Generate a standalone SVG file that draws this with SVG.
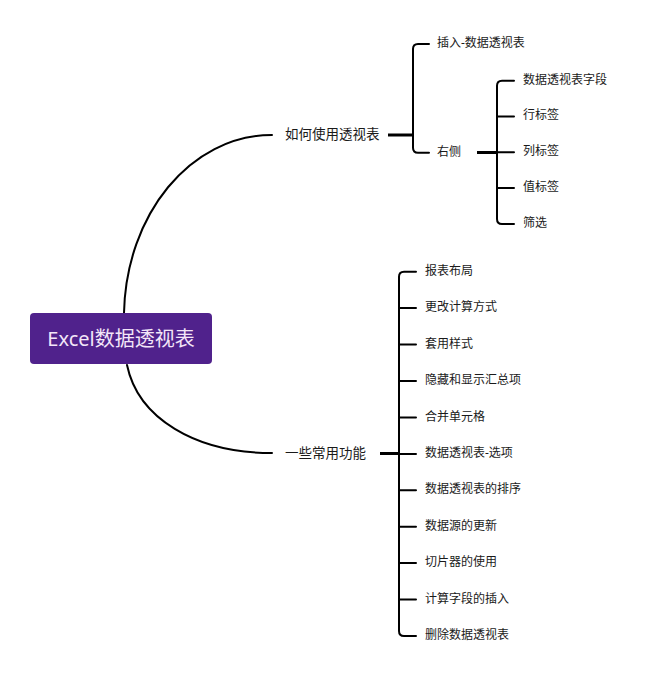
<svg xmlns="http://www.w3.org/2000/svg" width="646" height="678" viewBox="0 0 646 678">
<style>
.t{font-family:"Noto Sans","Noto Sans CJK SC",sans-serif;fill:#1a1a1a;dominant-baseline:central}
.s{font-size:12px}
.m{font-size:13.5px}
.c{fill:none;stroke:#000;stroke-width:2;stroke-linecap:round}
.k{fill:none;stroke:#000;stroke-width:3}
</style>
<rect width="646" height="678" fill="#fff"/>
<g id="connectors">
<path class="c" d="M124,313 C126,215 190,135 272,135"/>
<path class="c" d="M127,365 C138,418 195,453 272,453"/>
<path class="k" d="M388,135 H413"/>
<path class="c" d="M429,44 H418 Q413,44 413,49 V147.7 Q413,152.7 418,152.7 H429"/>
<path class="k" d="M477,152.5 H497"/>
<path class="c" d="M514,80.7 H502 Q497,80.7 497,85.7 V219 Q497,224 502,224 H514 M497,116.5 H514 M497,152.3 H514 M497,188 H514"/>
<path class="k" d="M380,453.5 H399"/>
<path class="c" d="M416,271.7 H404 Q399,271.7 399,276.7 V631 Q399,636 404,636 H416 M399,308.1 H416 M399,344.6 H416 M399,381 H416 M399,417.4 H416 M399,453.9 H416 M399,490.3 H416 M399,526.7 H416 M399,563.1 H416 M399,599.6 H416"/>
</g>
<g id="root">
<rect x="30" y="313" width="182" height="51" rx="4" fill="#50228c"/>
<text class="t" x="121" y="338.5" font-size="20" text-anchor="middle" style="fill:#f3e6f8">Excel数据透视表</text>
</g>
<g id="n-howto"><text class="t m" x="285" y="134">如何使用透视表</text></g>
<g id="n-insert"><text class="t s" x="437" y="42.5">插入-数据透视表</text></g>
<g id="n-right"><text class="t s" x="437" y="151">右侧</text></g>
<g id="n-fields"><text class="t s" x="523" y="79">数据透视表字段</text></g>
<g id="n-row"><text class="t s" x="523" y="114.5">行标签</text></g>
<g id="n-col"><text class="t s" x="523" y="150.5">列标签</text></g>
<g id="n-val"><text class="t s" x="523" y="186.5">值标签</text></g>
<g id="n-filter"><text class="t s" x="523" y="222.5">筛选</text></g>
<g id="n-common"><text class="t m" x="285" y="452.5">一些常用功能</text></g>
<g id="c1"><text class="t s" x="425" y="270">报表布局</text></g>
<g id="c2"><text class="t s" x="425" y="306.5">更改计算方式</text></g>
<g id="c3"><text class="t s" x="425" y="343">套用样式</text></g>
<g id="c4"><text class="t s" x="425" y="379.5">隐藏和显示汇总项</text></g>
<g id="c5"><text class="t s" x="425" y="416">合并单元格</text></g>
<g id="c6"><text class="t s" x="425" y="452">数据透视表-选项</text></g>
<g id="c7"><text class="t s" x="425" y="488.5">数据透视表的排序</text></g>
<g id="c8"><text class="t s" x="425" y="525">数据源的更新</text></g>
<g id="c9"><text class="t s" x="425" y="561.5">切片器的使用</text></g>
<g id="c10"><text class="t s" x="425" y="598">计算字段的插入</text></g>
<g id="c11"><text class="t s" x="425" y="634">删除数据透视表</text></g>
</svg>
